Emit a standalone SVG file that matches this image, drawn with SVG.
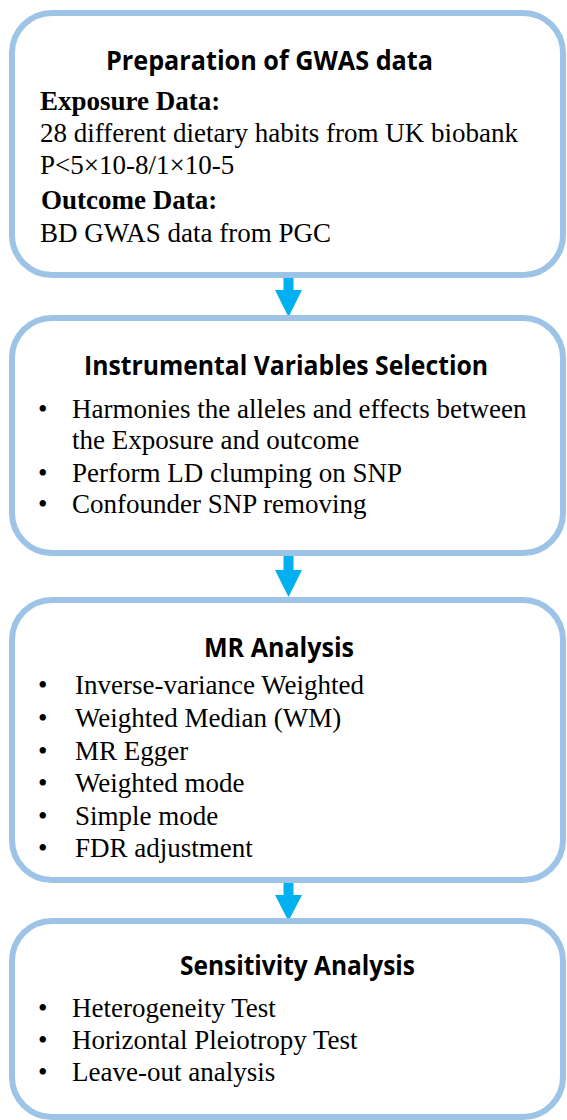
<svg xmlns="http://www.w3.org/2000/svg" width="567" height="1120" viewBox="0 0 567 1120">
<style>
.box{fill:#fff;stroke:#9DC3E6;stroke-width:6}
.title{font-family:"Open Sans","Liberation Sans",sans-serif;font-weight:700;font-size:26px;fill:#000}
.body{font-family:"Liberation Serif","Times New Roman",serif;font-size:27px;fill:#000}
.bold{font-weight:700}
.arrow{fill:#00B0F0}
</style>
<rect width="567" height="1120" fill="#fff"/>
<g id="connectors">
<polygon class="arrow" points="283.5,276 293.5,276 293.5,290 302,290 288.5,317 275,290 283.5,290"/>
<polygon class="arrow" points="283.5,555 293.5,555 293.5,570 302,570 288.5,597 275,570 283.5,570"/>
<polygon class="arrow" points="283.5,882 293.5,882 293.5,895 302,895 288.5,921 275,895 283.5,895"/>
</g>
<g id="node1">
<rect class="box" x="12" y="13" width="551" height="262" rx="40" ry="40"/>
<text class="title" x="106" y="70" textLength="327" lengthAdjust="spacingAndGlyphs">Preparation of GWAS data</text>
<text class="body bold" x="40" y="110">Exposure Data:</text>
<text class="body" x="40" y="142">28 different dietary habits from UK biobank</text>
<text class="body" x="40" y="174">P&lt;5×10-8/1×10-5</text>
<text class="body bold" x="41" y="209">Outcome Data:</text>
<text class="body" x="40" y="242">BD GWAS data from PGC</text>
</g>
<g id="node2">
<rect class="box" x="12" y="318" width="551" height="235" rx="40" ry="40"/>
<text class="title" x="84" y="375" textLength="404" lengthAdjust="spacingAndGlyphs">Instrumental Variables Selection</text>
<text class="body" x="38" y="418">•</text>
<text class="body" x="72" y="418">Harmonies the alleles and effects between</text>
<text class="body" x="72" y="449">the Exposure and outcome</text>
<text class="body" x="38" y="482">•</text>
<text class="body" x="72" y="482">Perform LD clumping on SNP</text>
<text class="body" x="38" y="513">•</text>
<text class="body" x="72" y="513">Confounder SNP removing</text>
</g>
<g id="node3">
<rect class="box" x="12" y="600" width="551" height="280" rx="40" ry="40"/>
<text class="title" x="204" y="657" textLength="150" lengthAdjust="spacingAndGlyphs">MR Analysis</text>
<text class="body" x="38" y="694">•</text>
<text class="body" x="75" y="694">Inverse-variance Weighted</text>
<text class="body" x="38" y="727">•</text>
<text class="body" x="75" y="727">Weighted Median (WM)</text>
<text class="body" x="38" y="760">•</text>
<text class="body" x="75" y="760">MR Egger</text>
<text class="body" x="38" y="792">•</text>
<text class="body" x="75" y="792">Weighted mode</text>
<text class="body" x="38" y="825">•</text>
<text class="body" x="75" y="825">Simple mode</text>
<text class="body" x="38" y="857">•</text>
<text class="body" x="75" y="857">FDR adjustment</text>
</g>
<g id="node4">
<rect class="box" x="12" y="921" width="551" height="196" rx="40" ry="40"/>
<text class="title" x="180" y="975" textLength="235" lengthAdjust="spacingAndGlyphs">Sensitivity Analysis</text>
<text class="body" x="38" y="1017">•</text>
<text class="body" x="72" y="1017">Heterogeneity Test</text>
<text class="body" x="38" y="1049">•</text>
<text class="body" x="72" y="1049">Horizontal Pleiotropy Test</text>
<text class="body" x="38" y="1081">•</text>
<text class="body" x="72" y="1081">Leave-out analysis</text>
</g>
</svg>
